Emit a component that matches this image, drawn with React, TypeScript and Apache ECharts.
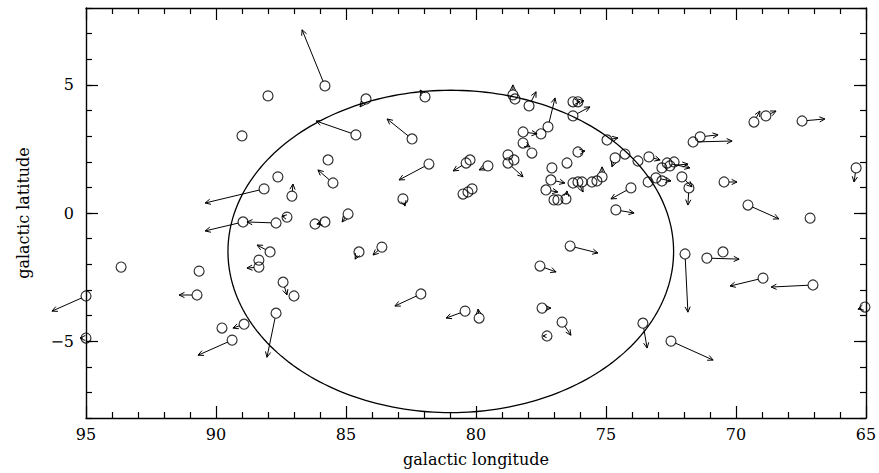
import React, { useEffect, useRef } from "react";
import * as echarts from "echarts";

// Star positions (galactic longitude / latitude, degrees)
const starLon = [
  85.81, 88.0, 89.0, 84.62, 84.23, 85.69, 87.62, 85.5, 87.08, 88.15,
  87.27, 88.96, 87.69, 85.81, 86.19, 84.92, 87.92, 88.35, 88.35, 87.42,
  87.0, 87.69, 88.92, 89.77, 89.38, 90.73, 90.65, 93.65, 95.0, 95.0,
  84.5, 82.46, 81.81, 82.81, 83.62, 82.12, 80.42, 79.88, 81.96, 80.38,
  80.23, 79.54, 78.77, 78.77, 78.54, 80.31, 80.5, 80.15, 78.58, 78.5,
  77.96, 77.23, 77.5, 78.19, 78.19, 77.85, 76.27, 76.08, 76.27, 76.08,
  77.08, 76.5, 77.12, 77.31, 77.0, 76.85, 76.54, 76.27, 76.08, 75.92,
  75.54, 75.35, 75.15, 74.96, 74.65, 74.27, 73.77, 73.35, 72.65, 72.85,
  72.54, 72.38, 72.08, 71.81, 73.38, 73.08, 72.85, 74.04, 74.62, 71.38,
  71.65, 70.46, 69.54, 67.15, 65.38, 69.31, 68.85, 67.46, 76.38, 77.54,
  77.46, 76.69, 77.27, 73.58, 72.5, 71.96, 71.12, 70.5, 68.96, 67.04,
  65.04,
];
const starLat = [
  4.96, 4.57, 3.01, 3.05, 4.45, 2.07, 1.41, 1.17, 0.66, 0.94,
  -0.16, -0.35, -0.39, -0.35, -0.43, -0.04, -1.52, -1.84, -2.11, -2.7,
  -3.24, -3.91, -4.34, -4.49, -4.96, -3.2, -2.27, -2.11, -3.24, -4.88,
  -1.52, 2.89, 1.91, 0.55, -1.33, -3.16, -3.83, -4.1, 4.53, 1.95,
  2.07, 1.84, 2.27, 1.95, 2.07, 0.82, 0.74, 0.94, 4.61, 4.45,
  4.18, 3.36, 3.09, 3.16, 2.73, 2.34, 4.34, 4.34, 3.79, 2.38,
  1.76, 1.95, 1.29, 0.9, 0.51, 0.51, 0.55, 1.17, 1.21, 1.21,
  1.21, 1.25, 1.41, 2.85, 2.15, 2.3, 2.03, 2.19, 1.95, 1.76,
  1.84, 1.99, 1.41, 0.98, 1.21, 1.37, 1.25, 0.98, 0.12, 2.97,
  2.77, 1.21, 0.31, -0.2, 1.76, 3.55, 3.79, 3.59, -1.29, -2.07,
  -3.71, -4.26, -4.8, -4.3, -5.0, -1.6, -1.76, -1.52, -2.54, -2.81,
  -3.67,
];
// Tip of each proper-motion arrow (null: no arrow drawn)
const arrowLon: (number | null)[] = [
  86.69, null, null, 86.15, 84.46, null, null, 86.08, 87.04, 90.42,
  87.46, 90.42, 88.81, 86.12, null, 85.15, 88.42, null, 88.81, 87.27,
  null, 88.04, 89.35, null, 90.69, 91.42, null, null, 96.31, 95.23,
  84.65, 83.42, 82.96, 82.73, 83.96, 83.12, 81.15, 79.92, 82.15, 80.88,
  null, 79.88, null, 78.19, null, null, null, null, 78.58, null,
  77.69, 76.96, null, 77.65, 77.92, null, 76.0, 75.85, 75.62, 75.81,
  null, null, 76.58, 76.85, null, null, 76.5, null, 75.88, null,
  null, null, 75.15, 74.54, 74.77, null, null, 72.92, 71.77, null,
  71.85, null, 71.69, 71.85, null, 72.5, null, 74.81, 73.92, 70.69,
  70.15, 69.96, 68.35, null, 65.46, 69.08, 68.46, 66.58, 75.31, 76.92,
  77.12, 76.35, 77.42, 73.42, 70.88, 71.85, 69.88, null, 70.23, 68.65,
  65.31,
];
const arrowLat: (number | null)[] = [
  7.15, null, null, 3.59, 4.14, null, null, 1.68, 1.13, 0.39,
  -0.12, -0.7, -0.35, -0.43, null, -0.35, -1.25, null, -2.15, -3.2,
  null, -5.63, -4.49, null, -5.55, -3.2, null, null, -3.83, -4.88,
  -1.8, 3.67, 1.29, 0.27, -1.64, -3.63, -4.1, -3.75, 4.8, 1.64,
  null, 1.68, null, 1.41, null, null, null, null, 5.0, null,
  4.73, 4.49, null, 3.09, 2.58, null, 4.34, 4.38, 4.14, 2.42,
  null, null, 1.17, 0.82, null, null, 0.86, null, 0.82, null,
  null, null, 1.8, 2.93, 1.8, null, null, 2.07, 1.76, null,
  1.91, null, 1.02, 0.31, null, 1.25, null, 0.55, 0.0, 3.05,
  2.81, 1.21, -0.23, null, 1.21, 3.98, 3.98, 3.67, -1.56, -2.3,
  -3.71, -4.77, -4.8, -5.27, -5.74, -3.87, -1.8, null, -2.85, -2.89,
  -3.75,
];

// Outline (centre and semi-axes, degrees)
const ellipseCenter = [80.97, -1.5];
const ellipseRadii = [8.57, 6.29];

const yLabelTicks = [-5, 0, 5];

const FONT = "DejaVu Serif";

export default function App() {
  const ref = useRef<HTMLDivElement>(null);

  useEffect(() => {
    if (!ref.current) return;
    const chart = echarts.init(ref.current, undefined, { renderer: "svg" });

    const stars = starLon.map((x, i) => [x, starLat[i]]);
    const arrows: number[][] = [];
    starLon.forEach((x, i) => {
      const ex = arrowLon[i];
      const ey = arrowLat[i];
      if (ex !== null && ey !== null) arrows.push([x, starLat[i], ex, ey]);
    });

    const lineStyle = { color: "#000", width: 1.4 };
    const tickStyle = { color: "#000", width: 1.2 };
    const labelStyle = { color: "#000", fontFamily: FONT, fontSize: 16 };

    const xBase = (pos: string, withLabel: boolean) => ({
      type: "value",
      position: pos,
      min: 65,
      max: 95,
      interval: 5,
      inverse: true,
      axisLine: { show: true, onZero: false, lineStyle },
      axisTick: { show: true, inside: true, length: 12, lineStyle: tickStyle },
      minorTick: { show: true, splitNumber: 5, length: 6, lineStyle: tickStyle },
      splitLine: { show: false },
      minorSplitLine: { show: false },
      axisLabel: withLabel
        ? { show: true, margin: 8, showMinLabel: true, showMaxLabel: true, ...labelStyle }
        : { show: false },
      ...(withLabel
        ? {
            name: "galactic longitude",
            nameLocation: "middle",
            nameGap: 33,
            nameTextStyle: { ...labelStyle },
          }
        : {}),
    });

    const yMajor = (pos: string, withLabel: boolean) => ({
      type: "value",
      position: pos,
      min: -8,
      max: 8,
      interval: 1,
      axisLine: { show: true, onZero: false, lineStyle },
      axisTick: { show: true, inside: true, length: 12, lineStyle: tickStyle, customValues: yLabelTicks },
      splitLine: { show: false },
      axisLabel: withLabel
        ? {
            show: true,
            margin: 12,
            customValues: yLabelTicks,
            formatter: (v: number) => (v < 0 ? "\u2212" + Math.abs(v) : String(v)),
            ...labelStyle,
          }
        : { show: false },
      ...(withLabel
        ? {
            name: "galactic latitude",
            nameLocation: "middle",
            nameGap: 55,
            nameTextStyle: { ...labelStyle },
          }
        : {}),
    });

    const yMinor = (pos: string) => ({
      type: "value",
      position: pos,
      min: -8,
      max: 8,
      interval: 1,
      axisLine: { show: false },
      axisTick: { show: true, inside: true, length: 6, lineStyle: tickStyle },
      splitLine: { show: false },
      axisLabel: { show: false },
    });

    chart.setOption({
      animation: false,
      backgroundColor: "#fff",
      grid: { left: 86, right: 13, top: 8, bottom: 55, containLabel: false, outerBoundsMode: "none" },
      xAxis: [xBase("bottom", true), xBase("top", false)],
      yAxis: [yMajor("left", true), yMinor("left"), yMajor("right", false), yMinor("right")],
      series: [
        {
          type: "custom",
          xAxisIndex: 0,
          yAxisIndex: 0,
          silent: true,
          clip: false,
          data: [[ellipseCenter[0], ellipseCenter[1], ellipseRadii[0], ellipseRadii[1]]],
          encode: { x: 0, y: 1 },
          renderItem: (_p: any, api: any) => {
            const c = api.coord([api.value(0), api.value(1)]);
            const e = api.coord([api.value(0) + api.value(2), api.value(1) + api.value(3)]);
            const rx = Math.abs(e[0] - c[0]);
            const ry = Math.abs(e[1] - c[1]);
            const pts: number[][] = [];
            for (let i = 0; i <= 240; i++) {
              const t = (i / 240) * Math.PI * 2;
              pts.push([c[0] + rx * Math.cos(t), c[1] + ry * Math.sin(t)]);
            }
            return {
              type: "polyline",
              shape: { points: pts },
              style: { stroke: "#000", fill: "none", lineWidth: 1.3 },
            };
          },
        },
        {
          type: "custom",
          xAxisIndex: 0,
          yAxisIndex: 0,
          silent: true,
          clip: false,
          data: arrows,
          encode: { x: [0, 2], y: [1, 3] },
          renderItem: (_p: any, api: any) => {
            const p0 = api.coord([api.value(0), api.value(1)]);
            const p1 = api.coord([api.value(2), api.value(3)]);
            const dx = p1[0] - p0[0];
            const dy = p1[1] - p0[1];
            const L = Math.hypot(dx, dy);
            if (L < 0.5) return { type: "group", children: [] };
            const ux = dx / L;
            const uy = dy / L;
            const r = Math.min(5, L * 0.5);
            const sx = p0[0] + ux * r;
            const sy = p0[1] + uy * r;
            const h = Math.min(6, Math.max(3.5, L));
            const a = 0.45;
            const ca = Math.cos(a);
            const sa = Math.sin(a);
            const bx = -ux;
            const by = -uy;
            const l1 = [p1[0] + h * (bx * ca - by * sa), p1[1] + h * (bx * sa + by * ca)];
            const l2 = [p1[0] + h * (bx * ca + by * sa), p1[1] + h * (-bx * sa + by * ca)];
            return {
              type: "group",
              children: [
                {
                  type: "line",
                  shape: { x1: sx, y1: sy, x2: p1[0], y2: p1[1] },
                  style: { stroke: "#000", lineWidth: 1 },
                },
                {
                  type: "polyline",
                  shape: { points: [l1, p1, l2] },
                  style: { stroke: "#000", fill: "none", lineWidth: 1 },
                },
              ],
            };
          },
        },
        {
          type: "scatter",
          xAxisIndex: 0,
          yAxisIndex: 0,
          silent: true,
          clip: false,
          data: stars,
          symbol: "circle",
          symbolSize: 10,
          itemStyle: { color: "rgba(255,255,255,0)", borderColor: "#000", borderWidth: 1.2 },
        },
      ],
    });

    return () => chart.dispose();
  }, []);

  return (
    <div
      ref={ref}
      style={{ position: "fixed", left: 0, top: 0, width: 879, height: 473, background: "#fff" }}
    />
  );
}
